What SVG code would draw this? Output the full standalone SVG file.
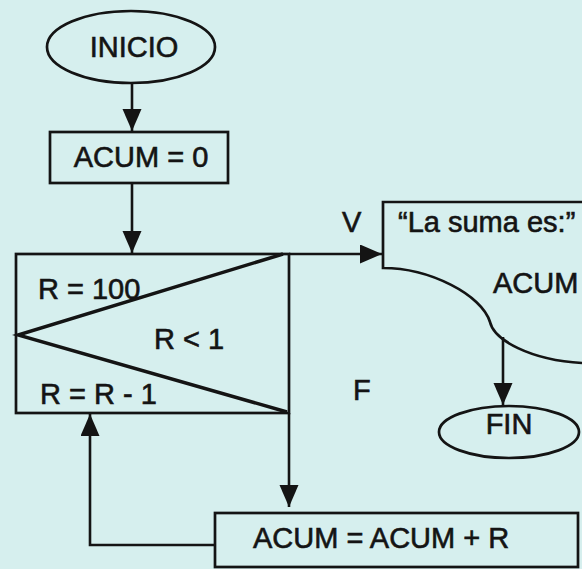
<svg xmlns="http://www.w3.org/2000/svg" width="582" height="569" viewBox="0 0 582 569">
<defs>
<style>
.ln{fill:none;stroke:#141414;stroke-width:2.6}
.tri{fill:none;stroke:#141414;stroke-width:3.4}
.sh{fill:none;stroke:#141414;stroke-width:2.7}
.t{font-family:"Liberation Sans",Arial,sans-serif;font-size:29px;fill:#141414;stroke:#141414;stroke-width:0.6}
.m{text-anchor:middle}
</style>
<marker id="ah" markerUnits="userSpaceOnUse" markerWidth="24" markerHeight="20" refX="22" refY="9.5" orient="auto">
<path d="M0,0 L22,9.5 L0,19 Z" fill="#141414"/>
</marker>
</defs>
<rect width="582" height="569" fill="#d6efee"/>
<g id="inicio">
<ellipse class="sh" cx="131" cy="47" rx="84" ry="36"/>
<text class="t m" x="134" y="57">INICIO</text>
</g>
<g id="acum0">
<rect class="sh" x="50" y="132" width="178" height="51"/>
<text class="t m" x="141" y="167">ACUM = 0</text>
</g>
<g id="loop">
<rect class="sh" x="16" y="254" width="273" height="159"/>
<polyline class="tri" points="283,254 18,335 287,412"/>
<text class="t" x="38" y="299">R = 100</text>
<text class="t" x="154" y="349">R &lt; 1</text>
<text class="t" x="40" y="404">R = R - 1</text>
</g>
<g id="salida">
<path class="sh" d="M582,202 L383,202 L383,268 C430,268 482,295 490,322 C494,340 530,360 582,363"/>
<text class="t" x="398" y="232">“La suma es:”</text>
<text class="t" x="493" y="293">ACUM</text>
</g>
<g id="fin">
<ellipse class="sh" cx="509" cy="432" rx="70" ry="26"/>
<text class="t m" x="509" y="434">FIN</text>
</g>
<g id="suma">
<rect class="sh" x="215" y="513" width="363" height="54"/>
<text class="t" x="253" y="548">ACUM = ACUM + R</text>
</g>
<g id="connectors">
<line class="ln" x1="132" y1="83" x2="132" y2="131" marker-end="url(#ah)"/>
<line class="ln" x1="132" y1="183" x2="132" y2="253" marker-end="url(#ah)"/>
<line class="ln" x1="289" y1="254" x2="382" y2="254" marker-end="url(#ah)"/>
<line class="ln" x1="289" y1="413" x2="289" y2="507" marker-end="url(#ah)"/>
<polyline class="ln" points="215,545 90,545 90,414" marker-end="url(#ah)"/>
<line class="ln" x1="503" y1="337" x2="503" y2="405" marker-end="url(#ah)"/>
<text class="t" x="342" y="232">V</text>
<text class="t" x="353" y="400">F</text>
</g>
</svg>
